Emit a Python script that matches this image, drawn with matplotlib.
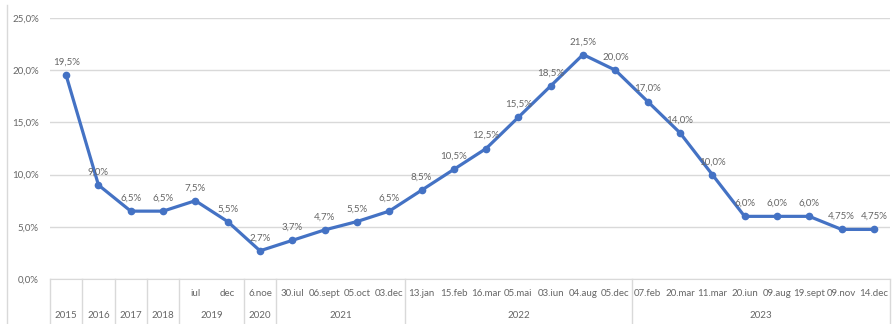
import matplotlib.pyplot as plt
import numpy as np

# data
sub_labels = ["", "", "", "", "iul", "dec", "6.noe", "30.iul", "06.sept", "05.oct", "03.dec",
              "13.jan", "15.feb", "16.mar", "05.mai", "03.iun", "04.aug", "05.dec",
              "07.feb", "20.mar", "11.mar", "20.iun", "09.aug", "19.sept", "09.nov", "14.dec"]
years = ["2015", "2016", "2017", "2018", "2019", "2020", "2021", "2022", "2023"]
year_sizes = [1, 1, 1, 1, 2, 1, 4, 7, 8]
rates = [19.5, 9.0, 6.5, 6.5, 7.5, 5.5, 2.7, 3.7, 4.7, 5.5, 6.5,
         8.5, 10.5, 12.5, 15.5, 18.5, 21.5, 20.0,
         17.0, 14.0, 10.0, 6.0, 6.0, 6.0, 4.75, 4.75]
rate_labels = ["19,5%", "9,0%", "6,5%", "6,5%", "7,5%", "5,5%", "2,7%", "3,7%", "4,7%", "5,5%", "6,5%",
               "8,5%", "10,5%", "12,5%", "15,5%", "18,5%", "21,5%", "20,0%",
               "17,0%", "14,0%", "10,0%", "6,0%", "6,0%", "6,0%", "4,75%", "4,75%"]

blue = '#4472C4'
grey = '#666666'
grid = '#d9d9d9'

plt.rcParams['font.family'] = ['Lato', 'DejaVu Sans']

fig = plt.figure(figsize=(8.96, 3.24), dpi=100)
ax = fig.add_axes([50/896, 1 - 279/324, 840/896, 261/324])

x = np.arange(len(rates))
ax.plot(x, rates, color=blue, lw=2.3, marker='o', ms=4.5, zorder=3)
for xi, v, t in zip(x, rates, rate_labels):
    ax.annotate(t, (xi, v), xytext=(0, 6), textcoords='offset points',
                ha='center', va='bottom', fontsize=7, color=grey)

ax.set_xlim(-0.5, len(rates) - 0.5)
ax.set_ylim(0, 25)
ax.set_yticks([0, 5, 10, 15, 20, 25])
ax.set_yticklabels(["0,0%", "5,0%", "10,0%", "15,0%", "20,0%", "25,0%"])
ax.tick_params(axis='y', length=0, labelsize=7, labelcolor=grey, pad=8)
ax.set_xticks([])
ax.grid(axis='y', color=grid, lw=1)
ax.set_axisbelow(True)
for s in ['top', 'right', 'left']:
    ax.spines[s].set_visible(False)
ax.spines['bottom'].set_color(grid)

# two-level category axis drawn as a small table
tr = ax.get_xaxis_transform()
row1 = -14 / 261
row2 = -36 / 261
bottom = -45 / 261
for xi, lab in zip(x, sub_labels):
    if lab:
        ax.text(xi, row1, lab, transform=tr, ha='center', va='center', fontsize=7, color=grey)

start = 0
for yr, n in zip(years, year_sizes):
    ax.text(start + (n - 1) / 2, row2, yr, transform=tr, ha='center', va='center', fontsize=7, color=grey)
    ax.plot([start - 0.5, start - 0.5], [0, bottom], transform=tr, color=grid, lw=1, clip_on=False)
    start += n
ax.plot([start - 0.5, start - 0.5], [0, bottom], transform=tr, color=grid, lw=1, clip_on=False)

# chart frame edge on the left
fig.add_artist(plt.Line2D([7/896, 7/896], [0, 1 - 5/324], transform=fig.transFigure, color=grid, lw=1))

fig.savefig("out.png", dpi=100)
